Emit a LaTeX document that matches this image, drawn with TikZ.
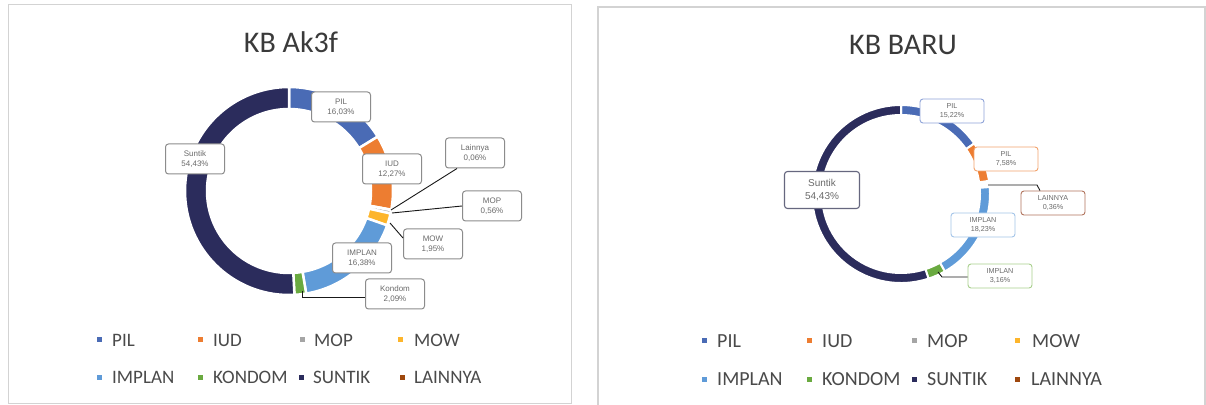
\documentclass[tikz,border=0pt]{standalone}
\usepackage{fontspec}
\setmainfont{Carlito}
\newfontfamily\arialf{Liberation Sans}
\definecolor{cPIL}{HTML}{4A6BB5}
\definecolor{cIUD}{HTML}{ED7D31}
\definecolor{cMOP}{HTML}{A5A5A5}
\definecolor{cMOW}{HTML}{FDB52B}
\definecolor{cIMP}{HTML}{5F9BD8}
\definecolor{cKON}{HTML}{6AAA40}
\definecolor{cSUN}{HTML}{2B2C5C}
\definecolor{cLAI}{HTML}{9E480E}
\definecolor{labgray}{HTML}{8C8C8C}
\definecolor{labtext}{HTML}{6A6A6A}
\definecolor{legtext}{HTML}{4A4A4A}
\definecolor{titletext}{HTML}{3A3A3A}
\definecolor{frame}{HTML}{D3D3D3}
\definecolor{bPIL}{HTML}{8FA4D8}
\definecolor{bIUD}{HTML}{F2A26C}
\definecolor{bSUN}{HTML}{66677F}
\definecolor{bLAI}{HTML}{B0735C}
\definecolor{bIMP}{HTML}{A3C4E8}
\definecolor{bKON}{HTML}{A8CF8C}
\newcommand{\ringseg}[8]{%
  \filldraw[fill=#7, draw=white, line width=#8, line join=miter]
    ([shift={(#5:#3)}]#1,#2) arc[start angle=#5, end angle=#6, radius=#3]
    -- ++(#6:{#4-#3}) arc[start angle=#6, end angle=#5, radius=#4] -- cycle;}
\begin{document}
\begin{tikzpicture}[x=1pt,y=1pt,
  lbl/.style={draw=#1, fill=white, rounded corners=3pt, line width=1pt, align=center, text=labtext, inner sep=0pt, minimum width=59pt, minimum height=30pt, font=\arialf\fontsize{8}{10}\selectfont},
  lbl/.default=labgray,
  lblr/.style={draw=#1, fill=white, rounded corners=3pt, line width=0.9pt, align=center, text=labtext, inner sep=0pt, minimum width=64pt, minimum height=24pt, font=\arialf\fontsize{7.2}{8.3}\selectfont},
  leader/.style={draw=black!90, line width=0.9pt},
  legsq/.style={fill=#1, minimum size=5pt, inner sep=0pt},
  legtxt/.style={anchor=west, inner sep=0pt, text=legtext, font=\fontsize{19}{19}\selectfont},
  legtxtr/.style={anchor=west, inner sep=0pt, text=legtext, font=\fontsize{20}{20}\selectfont},
  ttl/.style={text=titletext, font=\fontsize{30}{30}\selectfont, inner sep=0pt}
]
\useasboundingbox (0,0) rectangle (1206,404);
\fill[white] (0,0) rectangle (1206,404);
% panel frames
\draw[frame, line width=1pt] (8,399) rectangle (571,1);
\draw[frame, line width=1.3pt] (598,-5) -- (598,397) -- (1205,397) -- (1205,-5);
% titles
\node[ttl] (t1) at (291,361.5) {KB Ak3f};
\node[ttl] (t2) at (903,359) {KB BARU};
% ---------- left ring ----------
\ringseg{289}{213}{104}{82}{90}{31.5}{cPIL}{2.5pt}
\ringseg{289}{213}{104}{82}{31.5}{-10.4}{cIUD}{2.5pt}
\ringseg{289}{213}{104}{82}{-10.4}{-10.6}{cLAI}{2.5pt}
\ringseg{289}{213}{104}{82}{-10.6}{-12.5}{cMOP}{2.5pt}
\ringseg{289}{213}{104}{82}{-12.5}{-19.3}{cMOW}{2.5pt}
\ringseg{289}{213}{104}{82}{-19.3}{-80.5}{cIMP}{2.5pt}
\ringseg{289}{213}{104}{82}{-80.5}{-87}{cKON}{2.5pt}
\ringseg{289}{213}{104}{82}{-87}{-270}{cSUN}{2.5pt}
% leader end points (left)
\coordinate (pLai) at (391,194);
\coordinate (pMop) at (392,191);
\coordinate (pMow) at (390,181);
\coordinate (pKon) at (302,113);
% left labels
\node[lbl] (lPIL) at (341,297) {PIL\\16,03\%};
\node[lbl] (lSUN) at (195,245) {Suntik\\54,43\%};
\node[lbl] (lIUD) at (392,235) {IUD\\12,27\%};
\node[lbl] (lLAI) at (475,251) {Lainnya\\0,06\%};
\node[lbl] (lMOP) at (492,198) {MOP\\0,56\%};
\node[lbl] (lMOW) at (433,160) {MOW\\1,95\%};
\node[lbl] (lIMP) at (362,146) {IMPLAN\\16,38\%};
\node[lbl] (lKON) at (395,110) {Kondom\\2,09\%};
\draw[leader] (pLai) -- ([xshift=-18pt]lLAI.south);
\draw[leader] (pMop) -- (lMOP.west);
\draw[leader] (pMow) -- ([yshift=6pt]lMOW.west);
\draw[leader] (pKon) |- ([yshift=-3pt]lKON.west);
% ---------- right ring ----------
\ringseg{901}{210}{89}{79}{90}{34.6}{cPIL}{2pt}
\ringseg{901}{210}{89}{79}{34.6}{8.5}{cIUD}{2pt}
\ringseg{901}{210}{89}{79}{4.5}{-60.5}{cIMP}{2pt}
\ringseg{901}{210}{89}{79}{-60.5}{-72}{cKON}{2pt}
\ringseg{901}{210}{89}{79}{-72}{-270}{cSUN}{2pt}
\coordinate (qLai) at (988,219);
\coordinate (qLaiB) at (1037,219);
\coordinate (qKon) at (938,132);
\coordinate (qKonB) at (942,127);
% right labels
\node[lblr=bPIL] (rPIL) at (952,293) {PIL\\15,22\%};
\node[lblr=bIUD] (rIUD) at (1006,245) {PIL\\7,58\%};
\node[lblr=bSUN, minimum width=75pt, minimum height=37pt, line width=1.1pt, font=\arialf\fontsize{10}{13}\selectfont] (rSUN) at (822,214) {Suntik\\54,43\%};
\node[lblr=bLAI] (rLAI) at (1053,201) {LAINNYA\\0,36\%};
\node[lblr=bIMP] (rIMP) at (983,179) {IMPLAN\\18,23\%};
\node[lblr=bKON] (rKON) at (1000,128) {IMPLAN\\3,16\%};
\draw[leader] (qLai) -- (qLaiB) -- ([xshift=-13pt]rLAI.north);
\draw[leader] (qKon) -- (qKonB) -- (qKonB -| rKON.west);
% ---------- left legend ----------
\node[legsq=cPIL] (a1) at (99,64) {};   \node[legtxt] (b1) at (112,64) {PIL};
\node[legsq=cIUD] (a2) at (200,64) {};  \node[legtxt] (b2) at (213,64) {IUD};
\node[legsq=cMOP] (a3) at (302.5,64) {};\node[legtxt] (b3) at (314,64) {MOP};
\node[legsq=cMOW] (a4) at (400,64) {};  \node[legtxt] (b4) at (414,64) {MOW};
\node[legsq=cIMP] (a5) at (99,27) {};   \node[legtxt] (b5) at (112,27) {IMPLAN};
\node[legsq=cKON] (a6) at (200,27) {};  \node[legtxt] (b6) at (213,27) {KONDOM};
\node[legsq=cSUN] (a7) at (301,27) {};  \node[legtxt] (b7) at (313,27) {SUNTIK};
\node[legsq=cLAI] (a8) at (402,27) {};  \node[legtxt] (b8) at (414,27) {LAINNYA};
% ---------- right legend ----------
\node[legsq=cPIL] (c1) at (704.5,63) {};  \node[legtxtr] (d1) at (717,63) {PIL};
\node[legsq=cIUD] (c2) at (809.5,63) {};  \node[legtxtr] (d2) at (822,63) {IUD};
\node[legsq=cMOP] (c3) at (914.5,63) {};  \node[legtxtr] (d3) at (927,63) {MOP};
\node[legsq=cMOW] (c4) at (1017.5,63) {}; \node[legtxtr] (d4) at (1032,63) {MOW};
\node[legsq=cIMP] (c5) at (704.5,24.5) {};  \node[legtxtr] (d5) at (717,24.5) {IMPLAN};
\node[legsq=cKON] (c6) at (809.5,24.5) {};  \node[legtxtr] (d6) at (822,24.5) {KONDOM};
\node[legsq=cSUN] (c7) at (914.5,24.5) {};  \node[legtxtr] (d7) at (927,24.5) {SUNTIK};
\node[legsq=cLAI] (c8) at (1017.5,24.5) {}; \node[legtxtr] (d8) at (1031,24.5) {LAINNYA};
\end{tikzpicture}
\end{document}
